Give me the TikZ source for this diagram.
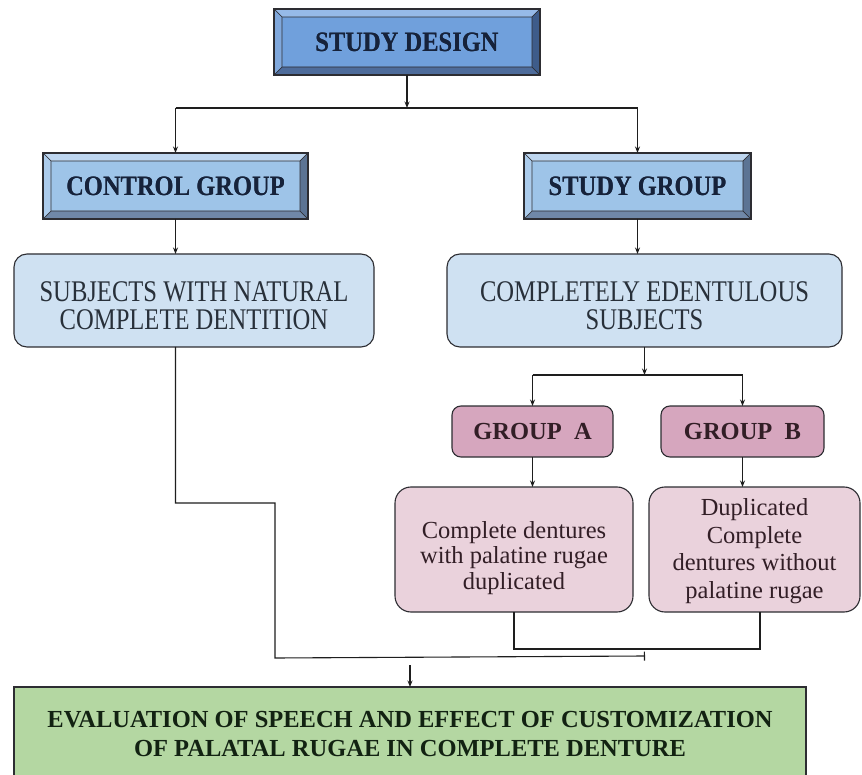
\documentclass[tikz,border=0pt]{standalone}
\usepackage{fontspec}
\setmainfont{Liberation Serif}
\newfontfamily\tallserif[FakeStretch=0.875]{Liberation Serif}
\newfontfamily\talllight[FakeStretch=0.82]{Liberation Serif}
\usetikzlibrary{calc,arrows.meta}
\definecolor{edge}{RGB}{45,45,50}
\definecolor{linec}{RGB}{30,30,30}
\definecolor{headtext}{RGB}{22,34,58}
\definecolor{bodytext}{RGB}{40,48,58}
\definecolor{pinktext}{RGB}{50,30,38}
\definecolor{greentext}{RGB}{18,34,18}
\definecolor{sdface}{RGB}{112,160,220}
\definecolor{sdtop}{RGB}{150,186,232}
\definecolor{sdleft}{RGB}{128,168,220}
\definecolor{sdright}{RGB}{62,92,138}
\definecolor{sdbot}{RGB}{78,108,155}
\definecolor{cgface}{RGB}{158,196,232}
\definecolor{cgtop}{RGB}{190,214,240}
\definecolor{cgleft}{RGB}{172,204,236}
\definecolor{cgright}{RGB}{92,116,148}
\definecolor{cgbot}{RGB}{112,136,168}
\definecolor{subjfill}{RGB}{207,225,242}
\definecolor{grpfill}{RGB}{214,166,190}
\definecolor{pinkfill}{RGB}{234,210,220}
\definecolor{greenfill}{RGB}{180,215,162}
\newcommand\bevelize[3]{%
  \begin{scope}[line width=0.6pt, draw=edge]
    \filldraw[fill=#3top] (#1.north west) -- (#1.north east) -- ($(#1.north east)+(-#2,#2)$) -- ($(#1.north west)+(#2,#2)$) -- cycle;
    \filldraw[fill=#3bot] (#1.south west) -- (#1.south east) -- ($(#1.south east)+(-#2,-#2)$) -- ($(#1.south west)+(#2,-#2)$) -- cycle;
    \filldraw[fill=#3left] (#1.north west) -- ($(#1.north west)+(#2,#2)$) -- ($(#1.south west)+(#2,-#2)$) -- (#1.south west) -- cycle;
    \filldraw[fill=#3right] (#1.north east) -- ($(#1.north east)+(-#2,#2)$) -- ($(#1.south east)+(-#2,-#2)$) -- (#1.south east) -- cycle;
    \draw[line width=1.3pt] (#1.north west) rectangle (#1.south east);
  \end{scope}}
\begin{document}
\begin{tikzpicture}[x=1pt,y=-1pt,
  bevelbox/.style={outer sep=0pt, inner sep=0pt, text=headtext,
    font=\tallserif\bfseries\fontsize{28}{30}\selectfont},
  softbox/.style={draw=edge, line width=1.1pt, rounded corners=13pt, fill=subjfill,
    outer sep=0pt, inner sep=0pt, align=center, text=bodytext,
    font=\talllight\fontsize{30}{28}\selectfont},
  grpbox/.style={draw=edge, line width=1.1pt, rounded corners=9pt, fill=grpfill,
    outer sep=0pt, inner sep=0pt, text=pinktext,
    font=\bfseries\fontsize{24.5}{28}\selectfont},
  pinkbox/.style={draw=edge, line width=1.1pt, rounded corners=16pt, fill=pinkfill,
    outer sep=0pt, inner sep=0pt, align=center, text=pinktext},
  evalbox/.style={draw=edge, line width=1.3pt, fill=greenfill,
    outer sep=0pt, inner sep=0pt, align=center, text=greentext,
    font=\bfseries\fontsize{24.5}{29}\selectfont},
  conn/.style={draw=linec, line width=1.1pt},
  arr/.style={conn, -{Stealth[length=6.5pt,width=5pt]}}]
\useasboundingbox (0,0) rectangle (862,775);
\clip (0,0) rectangle (862,775);
\fill[white] (0,0) rectangle (862,775);

% beveled header boxes
\node[bevelbox, fill=sdface, minimum width=266pt, minimum height=66pt] (sd) at (407,42) {STUDY DESIGN};
\node[bevelbox, fill=cgface, minimum width=265pt, minimum height=66pt] (cg) at (175.5,186) {CONTROL GROUP};
\node[bevelbox, fill=cgface, minimum width=227pt, minimum height=66pt] (sg) at (637.5,186) {STUDY GROUP};
\bevelize{sd}{8}{sd}
\bevelize{cg}{8}{cg}
\bevelize{sg}{8}{cg}
\node[bevelbox] at (sd) {STUDY DESIGN};
\node[bevelbox] at (cg) {CONTROL GROUP};
\node[bevelbox] at (sg) {STUDY GROUP};

% subject boxes
\node[softbox, minimum width=360pt, minimum height=93pt] (subj) at (194,300.5)
  {\rule{0pt}{30pt}SUBJECTS WITH NATURAL\\COMPLETE DENTITION};
\node[softbox, minimum width=395pt, minimum height=93pt] (eden) at (644.5,300.5)
  {\rule{0pt}{30pt}COMPLETELY EDENTULOUS\\SUBJECTS};

% groups
\node[grpbox, minimum width=161pt, minimum height=51pt] (ga) at (532.5,431.5) {GROUP\ \ A};
\node[grpbox, minimum width=163pt, minimum height=51pt] (gb) at (742.5,431.5) {GROUP\ \ B};

\node[pinkbox, minimum width=238pt, minimum height=125pt,
  font=\fontsize{24.5}{25.5}\selectfont] (a2) at (514,549.5)
  {\rule{0pt}{34pt}Complete dentures\\with palatine rugae\\duplicated};
\node[pinkbox, minimum width=211pt, minimum height=125pt,
  font=\fontsize{24.5}{27.5}\selectfont] (b2) at (754.5,549.5)
  {\rule{0pt}{20pt}Duplicated\\Complete\\dentures without\\palatine rugae};

% evaluation
\node[evalbox, minimum width=792pt, minimum height=94pt] (ev) at (410,734)
  {EVALUATION OF SPEECH AND EFFECT OF CUSTOMIZATION\\OF PALATAL RUGAE IN COMPLETE DENTURE};

% connectors
\coordinate (j1) at (407,108);
\draw[arr] (sd.south) -- (j1);
\draw[conn] (cg.north |- j1) -- (sg.north |- j1);
\draw[arr] (cg.north |- j1) -- (cg.north);
\draw[arr] (sg.north |- j1) -- (sg.north);

\draw[arr] (cg.south) -- (cg.south |- subj.north);
\draw[arr] (sg.south) -- (sg.south |- eden.north);

\coordinate (j2) at (644.5,375);
\draw[arr] (eden.south) -- (j2);
\draw[conn] (ga.north |- j2) -- (gb.north |- j2);
\draw[arr] (ga.north |- j2) -- (ga.north);
\draw[arr] (gb.north |- j2) -- (gb.north);

\draw[arr] (ga.south) -- (ga.south |- a2.north);
\draw[arr] (gb.south) -- (gb.south |- b2.north);

\coordinate (bj) at (760,649);
\draw[conn] (a2.south) |- (bj) -- (bj |- b2.south);

\coordinate (k1) at (175.5,503);
\coordinate (k2) at (275,503);
\coordinate (k3) at (275,658);
\coordinate (k4) at (645,656);
\draw[conn, -{Bar[width=9pt]}] (cg.south |- subj.south) -- (k1) -- (k2) -- (k3) -- (k4);

\coordinate (k5) at (410,665);
\draw[arr] (k5) -- (ev.north);
\end{tikzpicture}
\end{document}
